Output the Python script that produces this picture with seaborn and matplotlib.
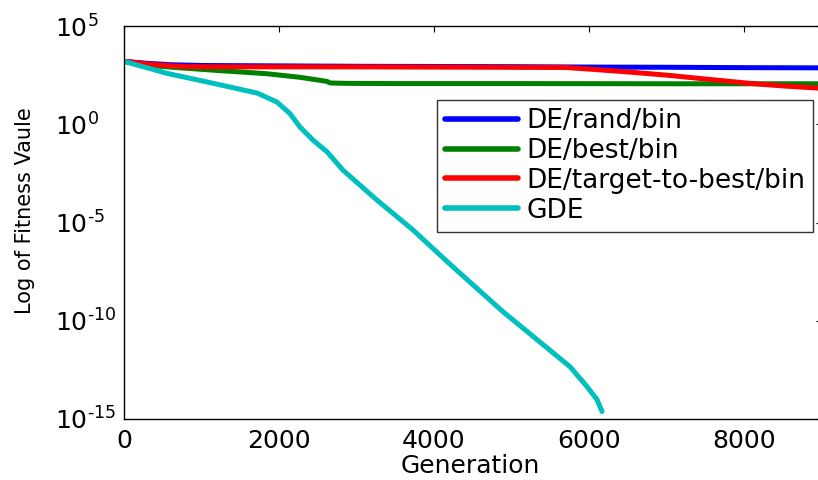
import numpy as np
import pandas as pd
import matplotlib
matplotlib.use("Agg")
import matplotlib.pyplot as plt
import seaborn as sns
from matplotlib.ticker import NullLocator, FixedLocator, FixedFormatter

# ---- data (log10 of fitness value) ----
series_names = ["DE/rand/bin", "DE/best/bin", "DE/target-to-best/bin", "GDE"]

rand_gen = [0, 300, 600, 1000, 2000, 3000, 4000, 5000, 6000, 7000, 8000, 9000]
rand_log = [3.20, 3.10, 3.03, 2.99, 2.97, 2.95, 2.94, 2.93, 2.91, 2.90, 2.88, 2.87]

best_gen = [0, 300, 760, 1200, 1845, 2270, 2619, 2660, 2880, 3500, 5000, 7000, 9000]
best_log = [3.20, 3.00, 2.86, 2.74, 2.57, 2.39, 2.18, 2.10, 2.08, 2.07, 2.07, 2.06, 2.06]

ttb_gen = [0, 200, 400, 800, 1500, 3000, 4000, 5000, 5700, 6100, 6570, 7000, 7430, 8075, 8500, 9000]
ttb_log = [3.20, 3.12, 3.03, 2.93, 2.92, 2.92, 2.91, 2.90, 2.89, 2.78, 2.64, 2.50, 2.33, 2.08, 1.95, 1.83]

gde_gen = [0, 555, 980, 1406, 1716, 1974, 2142, 2271, 2439, 2619, 2826, 3045, 3264,
           3729, 4077, 4245, 4890, 5329, 5755, 5974, 6103, 6168]
gde_log = [3.20, 2.59, 2.23, 1.86, 1.59, 1.13, 0.54, -0.14, -0.81, -1.40, -2.34, -3.10, -3.86,
           -5.38, -6.65, -7.26, -9.54, -10.96, -12.34, -13.35, -14.01, -14.62]

x_ticks = [0, 2000, 4000, 6000, 8000]
y_ticks = [1e-15, 1e-10, 1e-5, 1e0, 1e5]
y_tick_labels = [r"$10^{\text{-15}}$", r"$10^{\text{-10}}$", r"$10^{\text{-5}}$",
                 r"$10^{0}$", r"$10^{5}$"]

frames = []
for name, g, v in zip(series_names,
                      [rand_gen, best_gen, ttb_gen, gde_gen],
                      [rand_log, best_log, ttb_log, gde_log]):
    frames.append(pd.DataFrame({"Generation": g,
                                "Fitness": 10.0 ** np.array(v),
                                "Algorithm": name}))
df = pd.concat(frames, ignore_index=True)

sns.set_style("white")
plt.rcParams["font.family"] = ["DejaVu Sans"]
plt.rcParams["mathtext.fontset"] = "dejavusans"
plt.rcParams["mathtext.default"] = "regular"
for k in ["text.color", "axes.labelcolor", "xtick.color", "ytick.color"]:
    plt.rcParams[k] = "black"

fig = plt.figure(figsize=(8.18, 4.80), dpi=100)
ax = fig.add_axes([124 / 818, 61 / 480, 697.5 / 818, 393 / 480])

palette = {"DE/rand/bin": (0, 0, 1), "DE/best/bin": (0, 0.5, 0),
           "DE/target-to-best/bin": (1, 0, 0), "GDE": (0, 0.75, 0.75)}
sns.lineplot(data=df, x="Generation", y="Fitness", hue="Algorithm",
             hue_order=series_names, palette=palette, linewidth=3.6,
             ax=ax, estimator=None, sort=False)

ax.set_yscale("log")
ax.set_xlim(0, 9000)
ax.set_ylim(1e-15, 1e5)
ax.xaxis.set_major_locator(FixedLocator(x_ticks))
ax.yaxis.set_major_locator(FixedLocator(y_ticks))
ax.yaxis.set_major_formatter(FixedFormatter(y_tick_labels))
ax.yaxis.set_minor_locator(NullLocator())
ax.xaxis.set_minor_locator(NullLocator())
ax.tick_params(direction="in", length=4, width=0.8, top=True, right=True,
               labelsize=18)
ax.tick_params(axis="x", pad=7)
ax.tick_params(axis="y", pad=50)
for lab in ax.get_yticklabels():
    lab.set_horizontalalignment("left")
for s in ax.spines.values():
    s.set_visible(True)
    s.set_color("black")
    s.set_linewidth(1.0)

ax.set_xlabel("Generation", fontsize=18)
ax.xaxis.set_label_coords(0.496, -0.09)
ax.set_ylabel("Log of Fitness Vaule", fontsize=15)
ax.yaxis.set_label_coords(-0.127, 0.53)

leg = ax.legend(loc="upper right", bbox_to_anchor=(0.988, 0.812),
                fontsize=19, frameon=True, fancybox=False, edgecolor="black",
                handlelength=2.75, handletextpad=0.32, labelspacing=0.15,
                borderpad=0.3, borderaxespad=0)
leg.get_frame().set_linewidth(1.0)
for line in leg.get_lines():
    line.set_linewidth(4)

fig.savefig("out.png", dpi=100)
